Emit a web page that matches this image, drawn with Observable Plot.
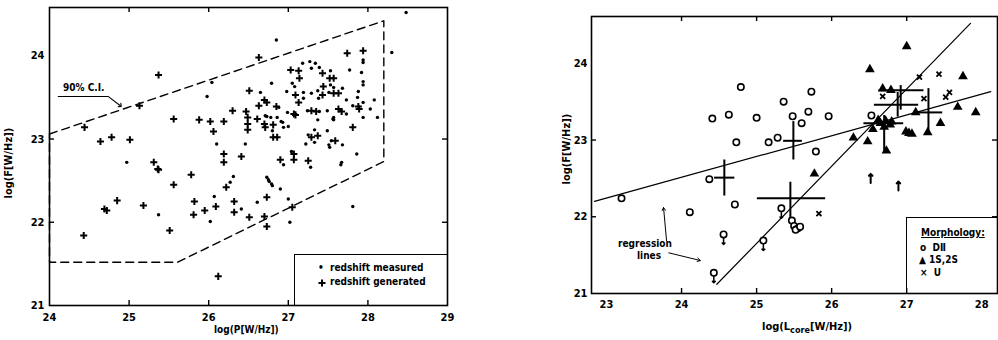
<!DOCTYPE html>
<html><head><meta charset="utf-8">
<script src="https://cdn.jsdelivr.net/npm/d3@7"></script>
<script src="https://cdn.jsdelivr.net/npm/@observablehq/plot@0.6"></script>
<style>
body{margin:0;background:#fff;width:998px;height:340px;position:relative;overflow:hidden;font-family:"Liberation Sans Narrow","DejaVu Sans Condensed",sans-serif;font-weight:bold;color:#000;}
.panel{position:absolute;top:0;}
.t{position:absolute;font-size:11px;white-space:nowrap;line-height:1;color:#000;}
.box{position:absolute;border-left:1.6px solid #000;border-top:1.6px solid #000;}
.rot{transform:rotate(-90deg);transform-origin:center center;}
</style></head><body>
<div id="left" class="panel" style="left:0"></div>
<div id="right" class="panel" style="left:520px"></div>
<script>
// ---------- LEFT PANEL DATA ----------
const leftXTicks = [24, 25, 26, 27, 28, 29];
const leftYTicks = [21, 22, 23, 24];
const measuredX = [24.97,25.98,26.04,26.10,26.46,26.31,26.27,26.07,26.41,26.02,25.37,26.85,27.18,27.27,27.34,27.39,27.29,27.53,26.79,27.05,27.08,27.53,27.57,26.65,26.98,27.19,27.29,27.37,27.51,27.68,27.19,27.38,26.88,26.99,27.24,27.39,27.49,26.73,26.78,26.86,26.91,27.37,27.56,26.94,27.00,26.80,27.33,27.49,28.48,28.30,27.94,27.94,27.77,27.92,27.94,27.94,27.88,27.73,27.87,27.94,28.08,28.03,27.81,28.12,27.94,27.66,27.73,27.57,27.57,27.86,27.68,27.52,27.54,27.51,27.25,27.33,27.22,27.28,27.67,27.66,26.93,26.71,27.04,26.94,26.73,26.75,26.76,26.79,26.80,26.90,26.61,27.00,27.02,27.81];
const measuredY = [22.72,23.51,23.68,22.94,22.94,22.55,22.48,22.31,22.16,22.01,22.09,24.19,23.91,23.93,23.91,23.86,23.85,23.82,23.67,23.67,23.63,23.65,23.62,23.56,23.57,23.56,23.55,23.58,23.56,23.61,23.49,23.49,23.38,23.32,23.34,23.33,23.34,23.27,23.26,23.26,23.21,23.23,23.24,23.14,23.15,23.10,23.11,23.10,24.52,24.04,23.95,23.92,23.83,23.80,23.69,23.65,23.57,23.47,23.50,23.44,23.47,23.36,23.40,23.26,23.26,23.35,23.30,23.26,23.23,22.82,22.93,22.90,22.98,22.93,23.05,22.96,22.94,22.66,22.72,22.69,23.20,23.28,22.85,22.69,22.54,22.51,22.49,22.46,22.44,22.40,22.24,22.28,22.00,22.19];
const generatedX = [25.37,24.44,25.13,24.78,24.64,25.01,25.31,25.36,25.56,25.88,26.02,26.19,26.06,26.19,26.19,26.41,26.30,26.47,26.49,26.49,26.49,26.51,25.37,25.56,25.78,26.22,26.09,25.95,25.82,25.81,26.32,26.32,26.51,25.18,25.51,24.85,24.69,24.72,24.43,26.12,26.63,27.03,27.13,27.14,27.43,27.52,27.57,27.44,27.09,27.43,27.57,27.63,27.13,26.70,26.73,26.63,26.85,27.07,27.09,27.29,27.35,27.63,27.67,26.61,26.81,26.70,26.71,27.74,27.94,27.88,27.89,27.81,27.37,27.29,27.59,27.07,27.07,26.90,27.25,26.81,26.86,26.73,27.05,26.70,26.73];
const generatedY = [23.77,23.14,23.40,23.02,22.97,22.99,22.72,22.64,23.24,23.23,23.21,23.21,23.09,22.82,22.72,22.79,23.34,23.33,23.26,23.18,23.11,23.58,22.63,22.45,22.57,22.42,22.19,22.14,22.25,22.09,22.25,22.12,22.06,22.20,21.90,22.26,22.16,22.14,21.84,21.35,23.98,23.83,23.82,23.73,23.79,23.73,23.73,23.63,23.53,23.53,23.55,23.55,23.44,23.47,23.44,23.40,23.39,23.30,23.29,23.34,23.33,23.36,23.33,23.24,23.17,23.18,23.14,24.03,24.06,23.39,23.36,23.14,23.04,23.02,22.98,22.82,22.75,22.75,22.74,23.02,23.02,22.30,22.18,22.07,21.95];
// 90% confidence region outline
const ciX = [24.00, 28.20, 28.20, 25.61, 24.00, 24.00];
const ciY = [23.06, 24.42, 22.73, 21.52, 21.52, 23.06];
// leader of the "90% C.I." callout
const ciLeaderX = [24.11, 24.74, 24.89];
const ciLeaderY = [23.51, 23.51, 23.40];

// ---------- RIGHT PANEL DATA ----------
const rightXTicks = [23, 24, 25, 26, 27, 28];
const rightYTicks = [21, 22, 23, 24];
const d2X = [24.41,24.63,24.79,25.00,24.73,25.36,25.48,25.60,25.69,25.73,25.96,25.28,25.16,25.79,26.53,23.20,24.37,24.11,24.71,25.47,25.50,25.55,25.52,25.58];
const d2Y = [23.28,23.33,23.69,23.29,22.97,23.50,23.31,23.22,23.37,23.63,23.31,23.03,22.97,22.85,23.32,22.24,22.49,22.06,22.16,21.95,21.88,21.85,21.83,21.87];
const d2LimX = [24.56,24.43,25.33,25.09];
const d2LimY = [21.77,21.27,22.11,21.69];
const sX = [27.00,26.51,27.75,27.92,27.68,27.45,27.28,26.29,26.48,26.55,26.73,26.68,26.79,25.77,26.65,26.72,26.78,26.70,26.80,26.62,26.99,27.03,27.07,27.12];
const sY = [24.22,23.92,23.83,23.36,23.43,23.22,23.10,23.03,22.98,23.14,22.86,23.67,23.65,22.56,23.22,23.25,23.20,23.17,23.24,23.26,23.11,23.09,23.08,23.36];
const sLimX = [26.52, 26.89];
const sLimY = [22.50, 22.40];
const uX = [27.17,27.43,27.57,27.52,27.23,26.68,25.83];
const uY = [23.82,23.86,23.62,23.56,23.54,23.57,22.04];
// error crosses (centre and extent)
const errX   = [24.57,25.49,25.45,26.92,26.88,26.70,27.29];
const errY   = [22.51,22.99,22.24,23.65,23.46,23.22,23.36];
const errXLo = [24.44,25.36,25.01,26.63,26.57,26.43,27.09];
const errXHi = [24.71,25.61,25.92,27.23,27.16,26.96,27.48];
const errYLo = [22.27,22.74,21.93,23.39,23.30,22.84,23.09];
const errYHi = [22.74,23.24,22.45,23.71,23.62,23.32,23.67];
// regression lines (end points)
const reg1X = [22.84, 28.12], reg1Y = [22.20, 23.63];
const reg2X = [24.47, 27.85], reg2Y = [21.12, 24.52];
// "regression lines" callout arrows
const calloutX1 = [23.80, 23.83], calloutY1 = [21.69, 21.53];
const calloutX2 = [23.76, 24.25], calloutY2 = [22.12, 21.43];

const FONT = '"Liberation Sans Narrow","DejaVu Sans Condensed",sans-serif';
const pts = (xs, ys) => xs.map((x, i) => ({x, y: ys[i]}));
const style = {fontFamily: FONT, fontSize: "11px", fontWeight: "bold", background: "white", color: "black"};

function inwardTicks(xt, yt, pw, ph) {
  const xi = xt.slice(1, -1), yi = yt.slice(1, -1);
  return [
    Plot.ruleX(xi, {x: d => d, insetTop: ph - 5, stroke: "#000", strokeWidth: 1.4}),
    Plot.ruleX(xi, {x: d => d, insetBottom: ph - 5, stroke: "#000", strokeWidth: 1.4}),
    Plot.ruleY(yi, {y: d => d, insetRight: pw - 5, stroke: "#000", strokeWidth: 1.4}),
    Plot.ruleY(yi, {y: d => d, insetLeft: pw - 5, stroke: "#000", strokeWidth: 1.4})
  ];
}

// LEFT PLOT
const LW = 460, LH = 340, Lm = {l: 49, r: 13, t: 7, b: 35};
const left = Plot.plot({
  width: LW, height: LH, marginLeft: Lm.l, marginRight: Lm.r, marginTop: Lm.t, marginBottom: Lm.b,
  x: {domain: [24, 29]}, y: {domain: [21, 24.58]},
  style,
  marks: [
    Plot.axisX({ticks: leftXTicks, tickSize: 0, tickPadding: 8, label: null, tickFormat: d => d}),
    Plot.axisY({ticks: leftYTicks, tickSize: 0, tickPadding: 5, label: null, tickFormat: d => d}),
    ...inwardTicks(leftXTicks, leftYTicks, LW - Lm.l - Lm.r, LH - Lm.t - Lm.b),
    Plot.line(pts(ciX, ciY), {x: "x", y: "y", stroke: "#000", strokeWidth: 1.4, strokeDasharray: "8,5"}),
    Plot.line(pts(ciLeaderX, ciLeaderY), {x: "x", y: "y", stroke: "#000", strokeWidth: 1.1, markerEnd: "arrow"}),
    Plot.dot(pts(measuredX, measuredY), {x: "x", y: "y", r: 1.7, fill: "#000"}),
    Plot.dot(pts(generatedX, generatedY), {x: "x", y: "y", r: 2.4, symbol: "plus", stroke: "#000", strokeWidth: 2, fill: "none"}),
    Plot.frame({stroke: "#000", strokeWidth: 1.6})
  ]
});
document.getElementById("left").appendChild(left);

// RIGHT PLOT
const RW = 478, RH = 340, Rm = {l: 71, r: 1, t: 16, b: 47};
const idx = d3.range(errX.length);
const right = Plot.plot({
  width: RW, height: RH, marginLeft: Rm.l, marginRight: Rm.r, marginTop: Rm.t, marginBottom: Rm.b,
  x: {domain: [22.8, 28.21]}, y: {domain: [21, 24.61]},
  style,
  marks: [
    Plot.axisX({ticks: rightXTicks, tickSize: 0, tickPadding: 7, label: null, tickFormat: d => d}),
    Plot.axisY({ticks: rightYTicks, tickSize: 0, tickPadding: 4, label: null, tickFormat: d => d}),
    ...inwardTicks(rightXTicks, rightYTicks, RW - Rm.l - Rm.r, RH - Rm.t - Rm.b),
    Plot.line(pts(reg1X, reg1Y), {x: "x", y: "y", stroke: "#000", strokeWidth: 1.2}),
    Plot.line(pts(reg2X, reg2Y), {x: "x", y: "y", stroke: "#000", strokeWidth: 1.2}),
    Plot.ruleY(idx, {y: i => errY[i], x1: i => errXLo[i], x2: i => errXHi[i], stroke: "#000", strokeWidth: 2}),
    Plot.ruleX(idx, {x: i => errX[i], y1: i => errYLo[i], y2: i => errYHi[i], stroke: "#000", strokeWidth: 2}),
    Plot.arrow(d3.range(2), {x1: i => calloutX1[i], y1: i => calloutY1[i], x2: i => calloutX2[i], y2: i => calloutY2[i], stroke: "#000", strokeWidth: 1, headLength: 5}),
    Plot.vector(pts(d2LimX, d2LimY), {x: "x", y: "y", length: 7, rotate: 180, anchor: "start", dy: 3, stroke: "#000", strokeWidth: 1.5}),
    Plot.dot(pts(d2X.concat(d2LimX), d2Y.concat(d2LimY)), {x: "x", y: "y", r: 3.2, stroke: "#000", strokeWidth: 1.6, fill: "white"}),
    Plot.dot(pts(sX, sY), {x: "x", y: "y", r: 3.6, symbol: "triangle", fill: "#000"}),
    Plot.vector(pts(sLimX, sLimY), {x: "x", y: "y", length: 9, rotate: 0, anchor: "middle", stroke: "#000", strokeWidth: 2}),
    Plot.dot(pts(uX, uY), {x: "x", y: "y", r: 2.4, symbol: "times", stroke: "#000", strokeWidth: 1.8}),
    Plot.frame({stroke: "#000", strokeWidth: 1.6})
  ]
});
document.getElementById("right").appendChild(right);
</script>

<!-- axis titles, annotations and legends -->
<div class="t rot" style="left:-27px;top:158px;width:70px;text-align:center">log(F[W/Hz])</div>
<div class="t" style="left:214px;top:325px;font-size:10px">log(P[W/Hz])</div>
<div class="t" style="left:63px;top:83px;font-size:10px">90% C.I.</div>
<div class="box" style="left:294px;top:254px;width:153px;height:51px"></div>
<div class="t" style="left:318px;top:263px;font-size:10px">•&nbsp;&nbsp;redshift measured</div>
<svg style="position:absolute;left:318px;top:279px" width="8" height="8"><path d="M4,0.5V7.5M0.5,4H7.5" stroke="#000" stroke-width="2"/></svg>
<div class="t" style="left:330px;top:277px;font-size:10px">redshift generated</div>

<div class="t rot" style="left:531px;top:144px;width:70px;text-align:center">log(F[W/Hz])</div>
<div class="t" style="left:762px;top:321px">log(L<sub style="font-size:9px">core</sub>[W/Hz])</div>
<div class="t" style="left:618px;top:239px;font-size:10px">regression</div>
<div class="t" style="left:637px;top:251px;font-size:10px">lines</div>
<div class="box" style="left:906px;top:217px;width:91px;height:76px"></div>
<div class="t" style="left:921px;top:228px;font-size:10px;text-decoration:underline">Morphology:</div>
<div class="t" style="left:920px;top:243px;font-size:10px">o&nbsp;&nbsp;DⅡ</div>
<div class="t" style="left:919px;top:255px;font-size:10px">▲&nbsp;1S,2S</div>
<div class="t" style="left:920px;top:268px;font-size:10px">×&nbsp;&nbsp;U</div>
</body></html>
